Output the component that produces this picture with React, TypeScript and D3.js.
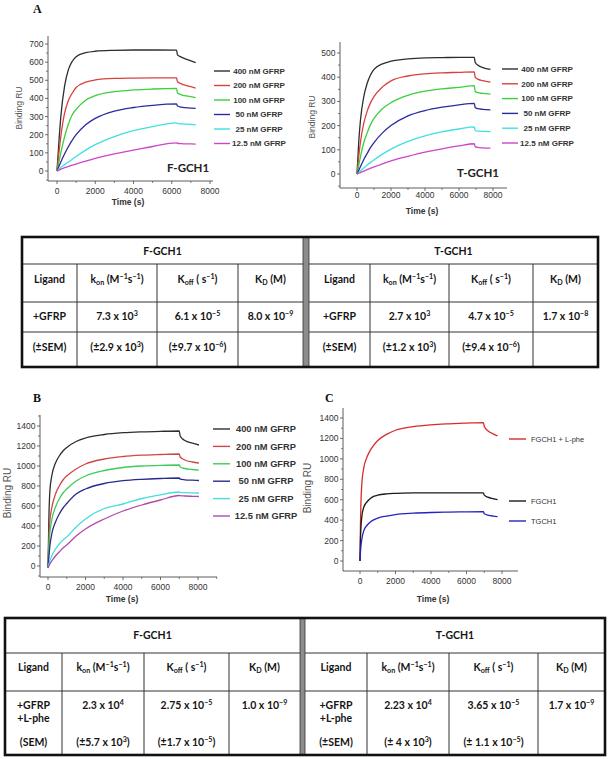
import React from "react";
import * as d3 from "d3";

const FONT = "'Liberation Sans', Arial, sans-serif";
const TFONT = "Lato, 'Open Sans', sans-serif";

// ---------- Panel A (F-GCH1) ----------
const tA1 = [0, 100, 200, 400, 600, 800, 1000, 1500, 2000, 3000, 4000, 5000, 6250, 6300, 6500, 7000, 7250];
const a1_400 = [0, 160, 300, 470, 560, 605, 630, 652, 660, 665, 667, 667, 666, 640, 628, 607, 597];
const a1_200 = [0, 100, 190, 320, 390, 430, 460, 490, 502, 510, 512, 513, 513, 492, 480, 465, 457];
const a1_100 = [0, 50, 100, 190, 260, 310, 340, 390, 415, 437, 447, 452, 455, 430, 420, 410, 405];
const a1_50 = [0, 25, 50, 95, 135, 170, 200, 255, 290, 330, 350, 362, 370, 358, 352, 347, 345];
const a1_25 = [0, 10, 20, 35, 50, 65, 80, 115, 145, 190, 222, 245, 265, 262, 260, 257, 255];
const a1_12 = [0, 5, 10, 18, 25, 32, 38, 55, 70, 95, 115, 135, 155, 153, 151, 149, 148];

// ---------- Panel A (T-GCH1) ----------
const tA2 = [0, 100, 200, 400, 600, 800, 1000, 1500, 2000, 3000, 4000, 5000, 6000, 6900, 6950, 7100, 7400, 7850];
const a2_400 = [0, 130, 220, 320, 375, 410, 432, 455, 466, 476, 480, 481, 482, 482, 462, 450, 440, 432];
const a2_200 = [0, 70, 130, 210, 260, 295, 320, 360, 385, 405, 414, 418, 420, 422, 400, 392, 386, 380];
const a2_100 = [0, 35, 70, 130, 170, 205, 230, 270, 295, 325, 342, 352, 358, 365, 342, 336, 333, 330];
const a2_50 = [0, 15, 30, 60, 85, 110, 130, 170, 200, 240, 262, 276, 286, 292, 275, 270, 267, 265];
const a2_25 = [0, 6, 12, 25, 37, 48, 58, 82, 103, 135, 158, 174, 186, 195, 180, 177, 176, 175];
const a2_12 = [0, 3, 6, 12, 18, 24, 29, 42, 54, 73, 90, 104, 116, 125, 113, 110, 108, 107];

// ---------- Panel B ----------
const tB = [0, 50, 100, 200, 400, 600, 800, 1000, 1500, 2000, 3000, 4000, 5000, 6000, 7000, 7050, 7300, 7700, 8050];
const b_400 = [-20, 500, 750, 900, 1030, 1100, 1150, 1185, 1245, 1280, 1315, 1333, 1342, 1347, 1350, 1300, 1255, 1228, 1210];
const b_200 = [-20, 300, 450, 580, 720, 800, 860, 900, 970, 1020, 1070, 1095, 1108, 1115, 1120, 1090, 1060, 1040, 1030];
const b_100 = [-20, 200, 330, 460, 590, 670, 730, 770, 850, 900, 955, 985, 1000, 1007, 1010, 990, 975, 965, 958];
const b_50 = [-20, 100, 200, 320, 440, 520, 580, 625, 720, 770, 825, 853, 867, 875, 880, 868, 862, 858, 855];
const b_25 = [-20, 20, 50, 100, 170, 220, 260, 290, 390, 470, 575, 620, 675, 712, 740, 737, 734, 731, 730];
const b_12 = [-20, 0, 20, 50, 100, 140, 180, 210, 300, 370, 470, 550, 610, 660, 705, 703, 700, 697, 695];

// ---------- Panel C ----------
const tC = [0, 25, 50, 100, 200, 400, 600, 800, 1000, 1500, 2000, 3000, 4000, 5000, 6000, 6950, 7000, 7200, 7500, 7750];
const c_red = [0, 350, 550, 750, 900, 1020, 1090, 1140, 1180, 1240, 1280, 1315, 1333, 1343, 1350, 1355, 1320, 1275, 1245, 1225];
const c_black = [0, 200, 320, 430, 520, 580, 615, 635, 645, 657, 662, 666, 667, 667, 667, 666, 645, 625, 610, 600];
const c_blue = [0, 80, 140, 210, 290, 350, 385, 405, 420, 440, 455, 468, 475, 479, 481, 482, 462, 450, 440, 435];

const gfrpNames = ["400 nM GFRP", "200 nM GFRP", "100 nM GFRP", "50 nM GFRP", "25 nM GFRP", "12.5 nM GFRP"];
const cNames = ["FGCH1 + L-phe", "FGCH1", "TGCH1"];

const xTicks = [0, 2000, 4000, 6000, 8000];
const yTicksA1 = [0, 100, 200, 300, 400, 500, 600, 700];
const yTicksA2 = [0, 100, 200, 300, 400, 500];
const yTicksBC = [0, 200, 400, 600, 800, 1000, 1200, 1400];

// ---------- Tables ----------
const tblHeaders = ["Ligand", "k_{on} (M^{−1}s^{−1})", "K_{off} ( s^{−1})", "K_{D} (M)"];
const t1F = ["+GFRP", "7.3 x 10^{3}", "6.1 x 10^{−5}", "8.0 x 10^{−9}"];
const t1Fsem = ["(±SEM)", "(±2.9 x 10^{3})", "(±9.7 x 10^{−6})", ""];
const t1T = ["+GFRP", "2.7 x 10^{3}", "4.7 x 10^{−5}", "1.7 x 10^{−8}"];
const t1Tsem = ["(±SEM)", "(±1.2 x 10^{3})", "(±9.4 x 10^{−6})", ""];
const t2F = ["+GFRP", "2.3 x 10^{4}", "2.75 x 10^{−5}", "1.0 x 10^{−9}"];
const t2Fsem = ["(SEM)", "(±5.7 x 10^{3})", "(±1.7 x 10^{−5})", ""];
const t2T = ["+GFRP", "2.23 x 10^{4}", "3.65 x 10^{−5}", "1.7 x 10^{−9}"];
const t2Tsem = ["(±SEM)", "(± 4 x 10^{3})", "(± 1.1 x 10^{−5})", ""];
const lphe = "+L-phe";

const colA = ["#2e2e2e", "#d9413f", "#3ccf3c", "#2b2b9e", "#3fe0e0", "#cc44cc"];
const colB = ["#2e2e2e", "#cc4848", "#3ecb5a", "#2a2a90", "#45dede", "#b04aa8"];
const colC = ["#d92a2a", "#1a1a1a", "#2424c0"];

type Series = { t: number[]; v: number[]; color: string; name: string };

type ChartCfg = {
  px0: number; px8000: number; axL: number; axR: number;
  yTopVal: number; pyZero: number; pyTop: number; axT: number; axB: number;
  yTicks: number[]; yMinorStep: number;
  tickFont: number; titleFont: number; ylabFont: number;
  ylabX: number; ylabY: number; xlabX: number; xlabY: number; xtickY: number;
};

function Chart({ cfg, series }: { cfg: ChartCfg; series: Series[] }) {
  const x = d3.scaleLinear().domain([0, 8000]).range([cfg.px0, cfg.px8000]);
  const y = d3.scaleLinear().domain([0, cfg.yTopVal]).range([cfg.pyZero, cfg.pyTop]);
  const line = d3.line<[number, number]>().x((d) => x(d[0])).y((d) => y(d[1])).curve(d3.curveMonotoneX);
  const xMin = x.invert(cfg.axL), xMax = x.invert(cfg.axR);
  const xMinor = d3.range(-1000, 10001, 1000).filter((v) => v > xMin && v < xMax && !xTicks.includes(v));
  const yMin = y.invert(cfg.axB), yMax = y.invert(cfg.axT);
  const yMinor = d3.range(-cfg.yMinorStep, yMax + 1, cfg.yMinorStep).filter((v) => v > yMin && v < yMax && !cfg.yTicks.includes(v));
  const ax = "#4a4a4a";
  return (
    <g>
      <line x1={cfg.axL} x2={cfg.axR} y1={cfg.axB} y2={cfg.axB} stroke={ax} strokeWidth={0.9} />
      <line x1={cfg.axL} x2={cfg.axL} y1={cfg.axT} y2={cfg.axB} stroke={ax} strokeWidth={0.9} />
      {xTicks.map((v) => (
        <g key={"xt" + v}>
          <line x1={x(v)} x2={x(v)} y1={cfg.axB} y2={cfg.axB + 3} stroke={ax} strokeWidth={0.8} />
          <text x={x(v)} y={cfg.xtickY} textAnchor="middle" fontFamily={FONT} fontSize={cfg.tickFont} fill="#333">{v}</text>
        </g>
      ))}
      {xMinor.map((v) => (
        <line key={"xm" + v} x1={x(v)} x2={x(v)} y1={cfg.axB} y2={cfg.axB + 2} stroke={ax} strokeWidth={0.7} />
      ))}
      {cfg.yTicks.map((v) => (
        <g key={"yt" + v}>
          <line x1={cfg.axL - 3} x2={cfg.axL} y1={y(v)} y2={y(v)} stroke={ax} strokeWidth={0.8} />
          <text x={cfg.axL - 4.5} y={y(v)} dy="0.35em" textAnchor="end" fontFamily={FONT} fontSize={cfg.tickFont} fill="#333">{v}</text>
        </g>
      ))}
      {yMinor.map((v) => (
        <line key={"ym" + v} x1={cfg.axL - 2} x2={cfg.axL} y1={y(v)} y2={y(v)} stroke={ax} strokeWidth={0.7} />
      ))}
      <text x={cfg.xlabX} y={cfg.xlabY} textAnchor="middle" fontFamily={FONT} fontWeight="bold" fontSize={cfg.titleFont} fill="#333">Time (s)</text>
      <text transform={`translate(${cfg.ylabX},${cfg.ylabY}) rotate(-90)`} textAnchor="middle" dy="0.35em" fontFamily={FONT} fontSize={cfg.ylabFont} fill="#555">Binding RU</text>
      {series.map((s) => (
        <path key={s.name} d={line(s.t.map((t, i) => [t, s.v[i]] as [number, number])) || ""} fill="none" stroke={s.color} strokeWidth={1.3} strokeLinejoin="round" />
      ))}
    </g>
  );
}

function Legend({ series, lx0, lx1, tx, anchor, y0, dy, size, bold }: { series: Series[]; lx0: number; lx1: number; tx: number; anchor: string; y0: number[] | number; dy: number; size: number; bold: boolean }) {
  return (
    <g>
      {series.map((s, i) => {
        const yy = Array.isArray(y0) ? y0[i] : y0 + i * dy;
        return (
          <g key={s.name}>
            <line x1={lx0} x2={lx1} y1={yy} y2={yy} stroke={s.color} strokeWidth={1.4} />
            <text x={tx} y={yy} dy="0.35em" textAnchor={anchor as any} fontFamily={FONT} fontWeight={bold ? "bold" : "normal"} fontSize={size} fill="#333">{s.name}</text>
          </g>
        );
      })}
    </g>
  );
}

function parseRich(s: string) {
  const parts: { t: string; m: string }[] = [];
  const re = /\^\{([^}]*)\}|_\{([^}]*)\}/g;
  let last = 0;
  let m: RegExpExecArray | null;
  while ((m = re.exec(s))) {
    if (m.index > last) parts.push({ t: s.slice(last, m.index), m: "n" });
    if (m[1] !== undefined) parts.push({ t: m[1], m: "sup" });
    else parts.push({ t: m[2], m: "sub" });
    last = re.lastIndex;
  }
  if (last < s.length) parts.push({ t: s.slice(last), m: "n" });
  return parts;
}

function Rich({ x, y, s, size }: { x: number; y: number; s: string; size: number }) {
  if (!s) return null;
  const parts = parseRich(s);
  let cur = 0;
  return (
    <text x={x} y={y + size * 0.35} textAnchor="middle" fontFamily={TFONT} fontWeight="bold" fontSize={size} fill="#151515">
      {parts.map((p, i) => {
        const target = p.m === "sup" ? -size * 0.36 : p.m === "sub" ? size * 0.22 : 0;
        const d = target - cur;
        cur = target;
        return (
          <tspan key={i} dy={d} fontSize={p.m === "n" ? size : size * 0.68}>{p.t}</tspan>
        );
      })}
    </text>
  );
}

type TableCfg = {
  left: number[]; right: number[]; bar: [number, number]; rows: number[];
  yHead: number; yLig: number; yVal: number; yVal2: number | null; ySem: number;
};

function mid(a: number[], i: number) { return (a[i] + a[i + 1]) / 2; }

function Table({ cfg, fVals, fSem, tVals, tSem }: { cfg: TableCfg; fVals: string[]; fSem: string[]; tVals: string[]; tSem: string[] }) {
  const top = cfg.rows[0], bot = cfg.rows[cfg.rows.length - 1];
  const L = cfg.left, R = cfg.right;
  const fs = 10.5;
  const half = (cols: number[], title: string, vals: string[], sem: string[]) => (
    <g>
      {cfg.rows.slice(1, -1).map((ry) => (
        <line key={"r" + ry} x1={cols[0]} x2={cols[4]} y1={ry} y2={ry} stroke="#333" strokeWidth={1} />
      ))}
      {cols.slice(1, 4).map((cx) => (
        <line key={"c" + cx} x1={cx} x2={cx} y1={cfg.rows[1]} y2={bot} stroke="#333" strokeWidth={1} />
      ))}
      <Rich x={(cols[0] + cols[4]) / 2} y={cfg.yHead} s={title} size={fs} />
      {tblHeaders.map((h, i) => <Rich key={"h" + i} x={mid(cols, i)} y={cfg.yLig} s={h} size={fs} />)}
      {vals.map((v, i) => <Rich key={"v" + i} x={mid(cols, i)} y={cfg.yVal} s={v} size={fs} />)}
      {cfg.yVal2 !== null ? <Rich x={mid(cols, 0)} y={cfg.yVal2} s={lphe} size={fs} /> : null}
      {sem.map((v, i) => <Rich key={"s" + i} x={mid(cols, i)} y={cfg.ySem} s={v} size={fs} />)}
    </g>
  );
  return (
    <g>
      <rect x={cfg.bar[0]} y={top} width={cfg.bar[1] - cfg.bar[0]} height={bot - top} fill="#8c8c8c" />
      <line x1={cfg.bar[0]} x2={cfg.bar[0]} y1={top} y2={bot} stroke="#333" strokeWidth={0.8} />
      <line x1={cfg.bar[1]} x2={cfg.bar[1]} y1={top} y2={bot} stroke="#333" strokeWidth={0.8} />
      {half(L, "F-GCH1", fVals, fSem)}
      {half(R, "T-GCH1", tVals, tSem)}
      <rect x={L[0]} y={top} width={R[4] - L[0]} height={bot - top} fill="none" stroke="#111" strokeWidth={2.6} />
    </g>
  );
}

function mk(t: number[], vals: number[][], names: string[], cols: string[]): Series[] {
  return vals.map((v, i) => ({ t, v, color: cols[i], name: names[i] }));
}

export default function App() {
  const sA1 = mk(tA1, [a1_400, a1_200, a1_100, a1_50, a1_25, a1_12], gfrpNames, colA);
  const sA2 = mk(tA2, [a2_400, a2_200, a2_100, a2_50, a2_25, a2_12], gfrpNames, colA);
  const sB = mk(tB, [b_400, b_200, b_100, b_50, b_25, b_12], gfrpNames, colB);
  const sC = mk(tC, [c_red, c_black, c_blue], cNames, colC);

  const cfgA1: ChartCfg = {
    px0: 57, px8000: 210, axL: 48, axR: 213, yTopVal: 700, pyZero: 171, pyTop: 44, axT: 36, axB: 181,
    yTicks: yTicksA1, yMinorStep: 50, tickFont: 8.5, titleFont: 8.5, ylabFont: 8.5,
    ylabX: 19, ylabY: 108, xlabX: 128, xlabY: 205, xtickY: 194,
  };
  const cfgA2: ChartCfg = {
    px0: 357, px8000: 493, axL: 340, axR: 507, yTopVal: 500, pyZero: 174, pyTop: 53, axT: 42, axB: 188,
    yTicks: yTicksA2, yMinorStep: 50, tickFont: 8.5, titleFont: 8.5, ylabFont: 8.5,
    ylabX: 312, ylabY: 117, xlabX: 422, xlabY: 214, xtickY: 198,
  };
  const cfgB: ChartCfg = {
    px0: 48, px8000: 198, axL: 40, axR: 217, yTopVal: 1400, pyZero: 566, pyTop: 426, axT: 415, axB: 577,
    yTicks: yTicksBC, yMinorStep: 100, tickFont: 8.5, titleFont: 8.5, ylabFont: 10,
    ylabX: 7, ylabY: 493, xlabX: 122, xlabY: 602, xtickY: 590,
  };
  const cfgC: ChartCfg = {
    px0: 360, px8000: 502, axL: 343, axR: 518, yTopVal: 1400, pyZero: 561, pyTop: 418, axT: 408, axB: 571,
    yTicks: yTicksBC, yMinorStep: 100, tickFont: 8.5, titleFont: 8.5, ylabFont: 10,
    ylabX: 307, ylabY: 488, xlabX: 433, xlabY: 602, xtickY: 584,
  };

  const tbl1: TableCfg = {
    left: [22, 77, 157, 238, 303], right: [309, 370, 449, 533, 598], bar: [303, 309],
    rows: [237, 264, 302, 332, 367], yHead: 251, yLig: 279, yVal: 316, yVal2: null, ySem: 347,
  };
  const tbl2: TableCfg = {
    left: [5, 62, 144, 229, 300], right: [305, 367, 449, 538, 605], bar: [300, 305],
    rows: [618, 653, 691, 755], yHead: 635, yLig: 667, yVal: 705, yVal2: 718, ySem: 742,
  };

  return (
    <svg width={609} height={759} style={{ position: "absolute", left: 0, top: 0, background: "#fff" }}>
      <rect width={609} height={759} fill="#fff" />
      <text x={33} y={13} fontFamily="'Liberation Serif', serif" fontWeight="bold" fontSize={12} fill="#111">A</text>
      <text x={33} y={402} fontFamily="'Liberation Serif', serif" fontWeight="bold" fontSize={12} fill="#111">B</text>
      <text x={325} y={402} fontFamily="'Liberation Serif', serif" fontWeight="bold" fontSize={12} fill="#111">C</text>

      <Chart cfg={cfgA1} series={sA1} />
      <Legend series={sA1} lx0={214} lx1={230} tx={259} anchor="middle" y0={71} dy={14.5} size={8} bold={true} />
      <text x={167} y={172} fontFamily={TFONT} fontWeight="bold" fontSize={11.5} fill="#222">F-GCH1</text>

      <Chart cfg={cfgA2} series={sA2} />
      <Legend series={sA2} lx0={502} lx1={518} tx={547} anchor="middle" y0={69} dy={14.8} size={8} bold={true} />
      <text x={457} y={177} fontFamily={TFONT} fontWeight="bold" fontSize={11.5} fill="#222">T-GCH1</text>

      <Table cfg={tbl1} fVals={t1F} fSem={t1Fsem} tVals={t1T} tSem={t1Tsem} />

      <Chart cfg={cfgB} series={sB} />
      <Legend series={sB} lx0={213} lx1={230} tx={266} anchor="middle" y0={429} dy={17.4} size={9.3} bold={true} />

      <Chart cfg={cfgC} series={sC} />
      <Legend series={sC} lx0={509} lx1={526} tx={531} anchor="start" y0={[439, 501, 521]} dy={0} size={7.5} bold={false} />

      <Table cfg={tbl2} fVals={t2F} fSem={t2Fsem} tVals={t2T} tSem={t2Tsem} />
    </svg>
  );
}
